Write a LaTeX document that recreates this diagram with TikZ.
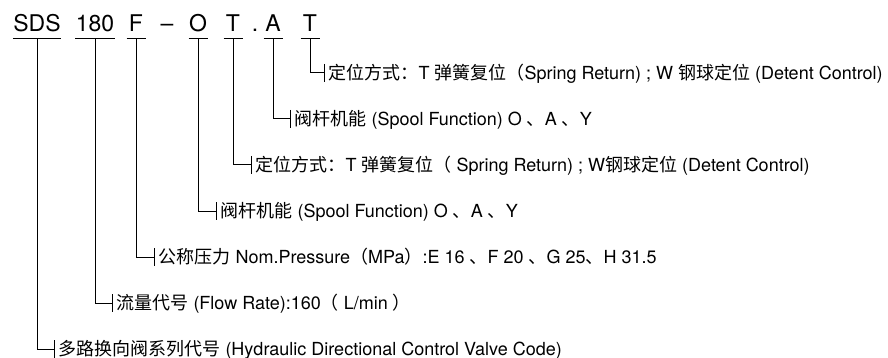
\documentclass[tikz,border=0pt]{standalone}
\usepackage{fontspec}
\setmainfont{TeX Gyre Heros}
\newfontfamily\cjk{Noto Sans CJK SC}
\usepackage{tikz}
\usetikzlibrary{positioning, calc}

\begin{document}
\begin{tikzpicture}[x=1pt, y=-1pt, line width=1pt,
  codechar/.style={anchor=base, inner xsep=0pt, inner ysep=0pt, minimum width=18pt, text height=17pt, text depth=6pt, font=\fontsize{23}{26}\selectfont},
  desc/.style={anchor=west, inner xsep=4pt, inner ysep=0pt, minimum height=17pt, text height=15pt, text depth=2pt, font=\fontsize{18}{20}\selectfont},
  uline/.style={line width=1pt}]
\useasboundingbox (0,0) rectangle (888,358);

\node[codechar] (sds) at (37,32) {SDS};
\node[codechar] (flow) at (95,32) {180};
\node[codechar] (press) at (136,32) {F};
\node[codechar, minimum width=0pt] (dash) at (167,32) {--};
\node[codechar] (spoolb) at (198,32) {O};
\node[codechar] (detb) at (233,32) {T};
\node[codechar, minimum width=0pt] (dot) at (255,32) {.};
\node[codechar] (spoola) at (273,32) {A};
\node[codechar] (deta) at (310,32) {T};

\foreach \n in {sds, flow, press, spoolb, detb, spoola, deta}
  \draw[uline] (\n.south west) -- (\n.south east);

\node[desc] (deta-d) at (324,73) {{\cjk 定位方式：}T {\cjk 弹簧复位（}Spring Return) ; W {\cjk 钢球定位} (Detent Control)};
\node[desc] (spoola-d) at (290,119) {{\cjk 阀杆机能} (Spool Function) O {\cjk 、}A {\cjk 、}Y};
\node[desc] (detb-d) at (251,165) {{\cjk 定位方式：}T {\cjk 弹簧复位（} Spring Return) ; W{\cjk 钢球定位} (Detent Control)};
\node[desc] (spoolb-d) at (216,211) {{\cjk 阀杆机能} (Spool Function) O {\cjk 、}A {\cjk 、}Y};
\node[desc] (press-d) at (154,257) {{\cjk 公称压力} Nom.Pressure{\cjk （}MPa{\cjk ）}:E 16 {\cjk 、}F 20 {\cjk 、}G 25{\cjk 、}H 31.5};
\node[desc] (flow-d) at (112,303) {{\cjk 流量代号} (Flow Rate):160{\cjk （} L/min {\cjk ）}};
\node[desc] (sds-d) at (54,349) {{\cjk 多路换向阀系列代号} (Hydraulic Directional Control Valve Code)};

\foreach \n in {sds, flow, press, spoolb, detb, spoola, deta} {
  \draw (\n.south) |- (\n-d.west);
  \draw (\n-d.north west) -- (\n-d.south west);
}
\end{tikzpicture}
\end{document}
